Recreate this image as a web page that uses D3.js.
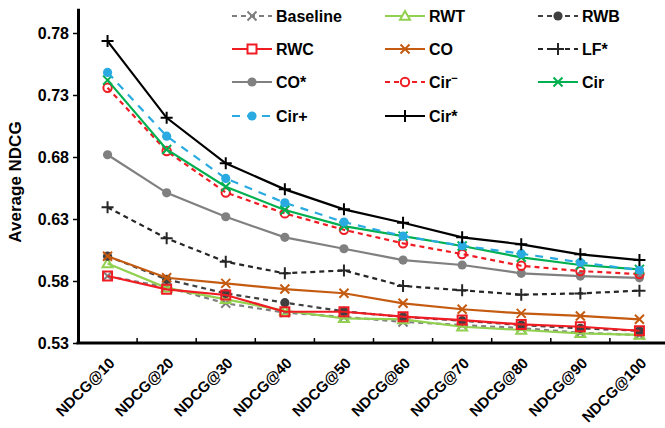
<!DOCTYPE html>
<html>
<head>
<meta charset="utf-8">
<script src="https://cdn.jsdelivr.net/npm/d3@7/dist/d3.min.js"></script>
<style>
    body { margin: 0; background: #fff; }
    svg { display: block; font-family: "Liberation Sans", Arial, sans-serif; font-weight: bold; }
</style>
</head>
<body>
<div id="chart"></div>
<script>
// NDCG chart data
const categories = ["NDCG@10", "NDCG@20", "NDCG@30", "NDCG@40", "NDCG@50",
                    "NDCG@60", "NDCG@70", "NDCG@80", "NDCG@90", "NDCG@100"];
const yTicks = [0.53, 0.58, 0.63, 0.68, 0.73, 0.78];

const baseline = [0.584, 0.575, 0.562, 0.5545, 0.551, 0.547, 0.5445, 0.542, 0.5383, 0.5364];
const rwt      = [0.5942, 0.5745, 0.5652, 0.556, 0.5499, 0.549, 0.5431, 0.5405, 0.5378, 0.5365];
const rwb      = [0.600, 0.5813, 0.570, 0.5625, 0.5555, 0.551, 0.548, 0.5445, 0.5418, 0.5399];
const rwc      = [0.584, 0.5733, 0.5687, 0.5552, 0.5552, 0.5512, 0.5485, 0.545, 0.5431, 0.5399];
const co       = [0.600, 0.5826, 0.5781, 0.5735, 0.5701, 0.562, 0.5572, 0.5539, 0.5518, 0.5491];
const lfStar   = [0.6394, 0.6144, 0.5955, 0.5862, 0.5885, 0.576, 0.5725, 0.569, 0.570, 0.5722];
const coStar   = [0.6818, 0.6511, 0.6318, 0.6152, 0.606, 0.5969, 0.5929, 0.5862, 0.584, 0.5826];
const cirMinus = [0.7358, 0.6848, 0.6514, 0.6345, 0.6213, 0.6104, 0.6017, 0.5923, 0.588, 0.5856];
const cir      = [0.742, 0.6861, 0.656, 0.6372, 0.6243, 0.6162, 0.6082, 0.5991, 0.5929, 0.5894];
const cirPlus  = [0.7482, 0.6968, 0.6627, 0.6431, 0.6275, 0.6162, 0.6084, 0.602, 0.595, 0.5888];
const cirStar  = [0.7735, 0.7116, 0.6749, 0.6539, 0.6378, 0.627, 0.6152, 0.6096, 0.6015, 0.5969];

// series styling
const series = [
    { name: "Baseline", values: baseline, color: "#7f7f7f", dash: "5,4", marker: "x" },
    { name: "RWT",      values: rwt,      color: "#92d050", dash: null,  marker: "triangle" },
    { name: "RWB",      values: rwb,      color: "#404040", dash: "5,4", marker: "circle" },
    { name: "RWC",      values: rwc,      color: "#f01c24", dash: null,  marker: "square" },
    { name: "CO",       values: co,       color: "#c55a11", dash: null,  marker: "x" },
    { name: "LF*",      values: lfStar,   color: "#262626", dash: "5,4", marker: "plus" },
    { name: "CO*",      values: coStar,   color: "#808080", dash: null,  marker: "circle" },
    { name: "Cir",      sup: "\u2212",    values: cirMinus, color: "#f01c24", dash: "5,4", marker: "ocircle" },
    { name: "Cir",      values: cir,      color: "#00b050", dash: null,  marker: "x" },
    { name: "Cir+",     values: cirPlus,  color: "#29abe2", dash: "8,7", marker: "circle" },
    { name: "Cir*",     values: cirStar,  color: "#000000", dash: null,  marker: "plus" }
];

const width = 665, height = 428;
const left = 78, bottom = 343;

const svg = d3.select("#chart").append("svg")
    .attr("width", width)
    .attr("height", height);

const x = d3.scalePoint().domain(categories).range([left, left + 591]).padding(0.5);
const step = x.step();
const y = d3.scaleLinear().domain([0.53, 0.80]).range([bottom, 8.2]);

// markers
function markerPath(type, s) {
    switch (type) {
        case "x": return `M${-s},${-s}L${s},${s}M${-s},${s}L${s},${-s}`;
        case "plus": return `M${-s - 1},0L${s + 1},0M0,${-s - 1}L0,${s + 1}`;
        case "square": return `M${-s},${-s}H${s}V${s}H${-s}Z`;
        case "triangle": return `M0,${-s}L${s},${s * 0.75}L${-s},${s * 0.75}Z`;
        default: return d3.symbol(d3.symbolCircle, Math.PI * s * s)();
    }
}
function markerSize(type) {
    return { x: 4.5, plus: 5, square: 4.5, triangle: 5, circle: 4.6, ocircle: 4.2 }[type];
}

const line = d3.line().x((d, i) => x(categories[i])).y(d => y(d));

const plot = svg.append("g");
series.forEach(s => {
    const g = plot.append("g");
    g.append("path")
        .attr("d", line(s.values))
        .attr("fill", "none")
        .attr("stroke", s.color)
        .attr("stroke-width", 2.2)
        .attr("stroke-dasharray", s.dash);
    g.selectAll("path.mk").data(s.values).enter().append("path")
        .attr("class", "mk")
        .attr("transform", (d, i) => `translate(${x(categories[i])},${y(d)})`)
        .attr("d", markerPath(s.marker, markerSize(s.marker)))
        .attr("fill", s.marker === "circle" ? s.color : "none")
        .attr("stroke", s.color)
        .attr("stroke-width", s.marker === "circle" ? 0 : 2);
});

// y axis
const yAxis = svg.append("g")
    .attr("transform", `translate(${left},0)`)
    .call(d3.axisLeft(y).tickValues(yTicks).tickFormat(d3.format(".2f")).tickSize(5).tickSizeOuter(0));
yAxis.select(".domain").attr("stroke", "#000").attr("stroke-width", 3);
yAxis.selectAll(".tick line").attr("stroke", "#000").attr("stroke-width", 1.5);
yAxis.selectAll(".tick text")
    .attr("x", -9)
    .attr("fill", "#000")
    .style("font-size", "16px")
    .style("font-family", "Liberation Sans, Arial, sans-serif")
    .style("font-weight", "bold");

// x axis: ticks at category boundaries pointing inward
const xg = svg.append("g");
xg.append("line")
    .attr("x1", left - 1.5).attr("x2", width)
    .attr("y1", bottom).attr("y2", bottom)
    .attr("stroke", "#000").attr("stroke-width", 3);
d3.range(1, categories.length + 1).forEach(k => {
    xg.append("line")
        .attr("x1", left + k * step).attr("x2", left + k * step)
        .attr("y1", bottom).attr("y2", bottom - 5)
        .attr("stroke", "#000").attr("stroke-width", 1.5);
});
xg.selectAll("text").data(categories).enter().append("text")
    .attr("transform", d => `translate(${x(d) + 8},${bottom + 21}) rotate(-45)`)
    .attr("text-anchor", "end")
    .style("font-size", "15px")
    .text(d => d);

// y title
svg.append("text")
    .attr("transform", `translate(21,182) rotate(-90)`)
    .attr("text-anchor", "middle")
    .style("font-size", "17px")
    .text("Average NDCG");

// legend
const colX = [232, 385, 538];
const rowY = [16, 49, 82, 116];
const legend = svg.append("g");
series.forEach((s, i) => {
    const lx = colX[i % 3], ly = rowY[Math.floor(i / 3)];
    const g = legend.append("g").attr("transform", `translate(${lx},${ly})`);
    g.append("line")
        .attr("x1", 0).attr("x2", 40)
        .attr("stroke", s.color)
        .attr("stroke-width", 2.2)
        .attr("stroke-dasharray", s.dash);
    g.append("path")
        .attr("transform", "translate(20,0)")
        .attr("d", markerPath(s.marker, markerSize(s.marker)))
        .attr("fill", s.marker === "circle" ? s.color : (s.marker === "x" || s.marker === "plus" ? "none" : "#fff"))
        .attr("stroke", s.color)
        .attr("stroke-width", s.marker === "circle" ? 0 : 2);
    const t = g.append("text")
        .attr("x", 44).attr("y", 6)
        .style("font-size", "16px")
        .text(s.name);
    if (s.sup) {
        t.append("tspan").attr("dy", -6).style("font-size", "11px").text(s.sup);
    }
});
</script>
</body>
</html>
